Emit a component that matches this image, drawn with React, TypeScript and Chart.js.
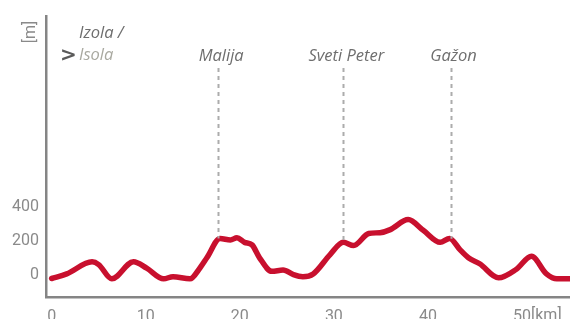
import React, { useEffect, useRef } from "react";
import { Chart, registerables } from "chart.js";

Chart.register(...registerables);

const distanceKm = [0, 1.6, 4.3, 5.0, 6.4, 8.7, 10.1, 11.9, 12.9, 14.7, 15.8, 16.5, 17.9, 19.0, 19.7, 20.5, 21.3, 22.1, 23.4, 24.6, 25.7, 26.7, 27.8, 29.6, 31.0, 32.1, 33.7, 34.9, 36.0, 37.9, 39.5, 41.3, 42.3, 43.4, 44.3, 45.5, 47.5, 49.4, 51.0, 52.6, 53.7, 55.1];
const elevationM = [-20, 7, 78, 62, -22, 79, 41, -22, -9, -22, 45, 102, 216, 207, 220, 193, 178, 102, 22, 30, 3, -9, 7, 121, 193, 174, 245, 250, 268, 327, 264, 193, 216, 150, 102, 67, -16, 35, 111, 7, -22, -22];

const xTicks = [0, 10, 20, 30, 40, 50];
const yTicks = [0, 200, 400];

const placeNames = ["Malija", "Sveti Peter", "Gažon"];
const placeKm = [17.7, 31.0, 42.4];
const placeElevation = [216, 193, 214];

const startNameSl = "Izola /";
const startNameIt = "Isola";
const yUnit = "[m]";
const xUnit = "[km]";

const NUM_FONT = "Roboto, 'DejaVu Sans', sans-serif";
const LABEL_FONT = "'Open Sans', 'Noto Sans', sans-serif";

export default function App() {
  const ref = useRef<HTMLCanvasElement | null>(null);

  useEffect(() => {
    document.body.style.margin = "0";
    const canvas = ref.current;
    if (!canvas) return;

    const overlay = {
      id: "overlay",
      afterDatasetsDraw(chart: any) {
        const ctx = chart.ctx;
        const xs = chart.scales.x;
        const ys = chart.scales.y;
        ctx.save();
        // dashed markers
        ctx.strokeStyle = "#acacac";
        ctx.lineWidth = 2;
        ctx.setLineDash([4, 4]);
        placeKm.forEach((km, i) => {
          const px = Math.round(xs.getPixelForValue(km)) + 0.5;
          ctx.beginPath();
          ctx.moveTo(px, 68);
          ctx.lineTo(px, ys.getPixelForValue(placeElevation[i]));
          ctx.stroke();
        });
        ctx.setLineDash([]);
        ctx.fillStyle = "#6e6e6e";
        ctx.font = `italic 16.5px ${LABEL_FONT}`;
        ctx.textAlign = "center";
        ctx.textBaseline = "middle";
        placeKm.forEach((km, i) => {
          ctx.fillText(placeNames[i], xs.getPixelForValue(km) + 3, 56);
        });
        // start labels
        ctx.textAlign = "left";
        ctx.fillStyle = "#6e6e6e";
        ctx.fillText(startNameSl, 79, 33);
        ctx.fillStyle = "#a9a9a0";
        ctx.fillText(startNameIt, 79, 55);
        ctx.fillStyle = "#5a5a5a";
        ctx.font = `bold 20px 'DejaVu Sans', sans-serif`;
        ctx.fillText(">", 60, 56);
        // units
        ctx.fillStyle = "#8a8a8a";
        ctx.font = `16px ${NUM_FONT}`;
        ctx.textAlign = "left";
        ctx.textBaseline = "top";
        const p50 = xs.getPixelForValue(50);
        ctx.fillText(xUnit, p50 + 9, 308);
        ctx.textBaseline = "middle";
        ctx.translate(31, 32);
        ctx.rotate(-Math.PI / 2);
        ctx.textAlign = "center";
        ctx.fillText(yUnit, 0, 0);
        ctx.restore();
      },
    };

    const chart = new Chart(canvas, {
      type: "line",
      data: {
        datasets: [
          {
            data: distanceKm.map((d, i) => ({ x: d, y: elevationM[i] })),
            borderColor: "#c8102e",
            borderWidth: 5.5,
            pointRadius: 0,
            tension: 0.4,
            cubicInterpolationMode: "monotone",
            fill: false,
            borderCapStyle: "round",
            borderJoinStyle: "round",
          },
        ],
      },
      options: {
        animation: false,
        responsive: false,
        maintainAspectRatio: false,
        layout: { padding: { top: 7, right: 0, left: 0, bottom: 0 } },
        plugins: { legend: { display: false }, tooltip: { enabled: false } },
        scales: {
          x: {
            type: "linear",
            min: -0.6,
            max: 55.1,
            afterBuildTicks: (s: any) => {
              s.ticks = xTicks.map((v) => ({ value: v }));
            },
            afterFit: (s: any) => {
              s.height = 22;
            },
            grid: { display: false, drawTicks: false },
            border: { display: true, color: "#858585", width: 2.5 },
            ticks: {
              padding: 10,
              color: "#8a8a8a",
              font: { family: NUM_FONT, size: 16 },
              maxRotation: 0,
            },
          },
          y: {
            type: "linear",
            min: -129,
            max: 1523,
            afterBuildTicks: (s: any) => {
              s.ticks = yTicks.map((v) => ({ value: v }));
            },
            afterFit: (s: any) => {
              s.width = 46;
            },
            grid: { display: false, drawTicks: false },
            border: { display: true, color: "#858585", width: 2.5 },
            ticks: {
              padding: 7,
              color: "#8a8a8a",
              font: { family: NUM_FONT, size: 16 },
            },
          },
        },
      },
      plugins: [overlay],
    } as any);

    return () => chart.destroy();
  }, []);

  return (
    <div style={{ position: "absolute", left: 0, top: 0, width: 570, height: 319 }}>
      <canvas ref={ref} width={570} height={319} style={{ width: 570, height: 319, display: "block" }} />
    </div>
  );
}
